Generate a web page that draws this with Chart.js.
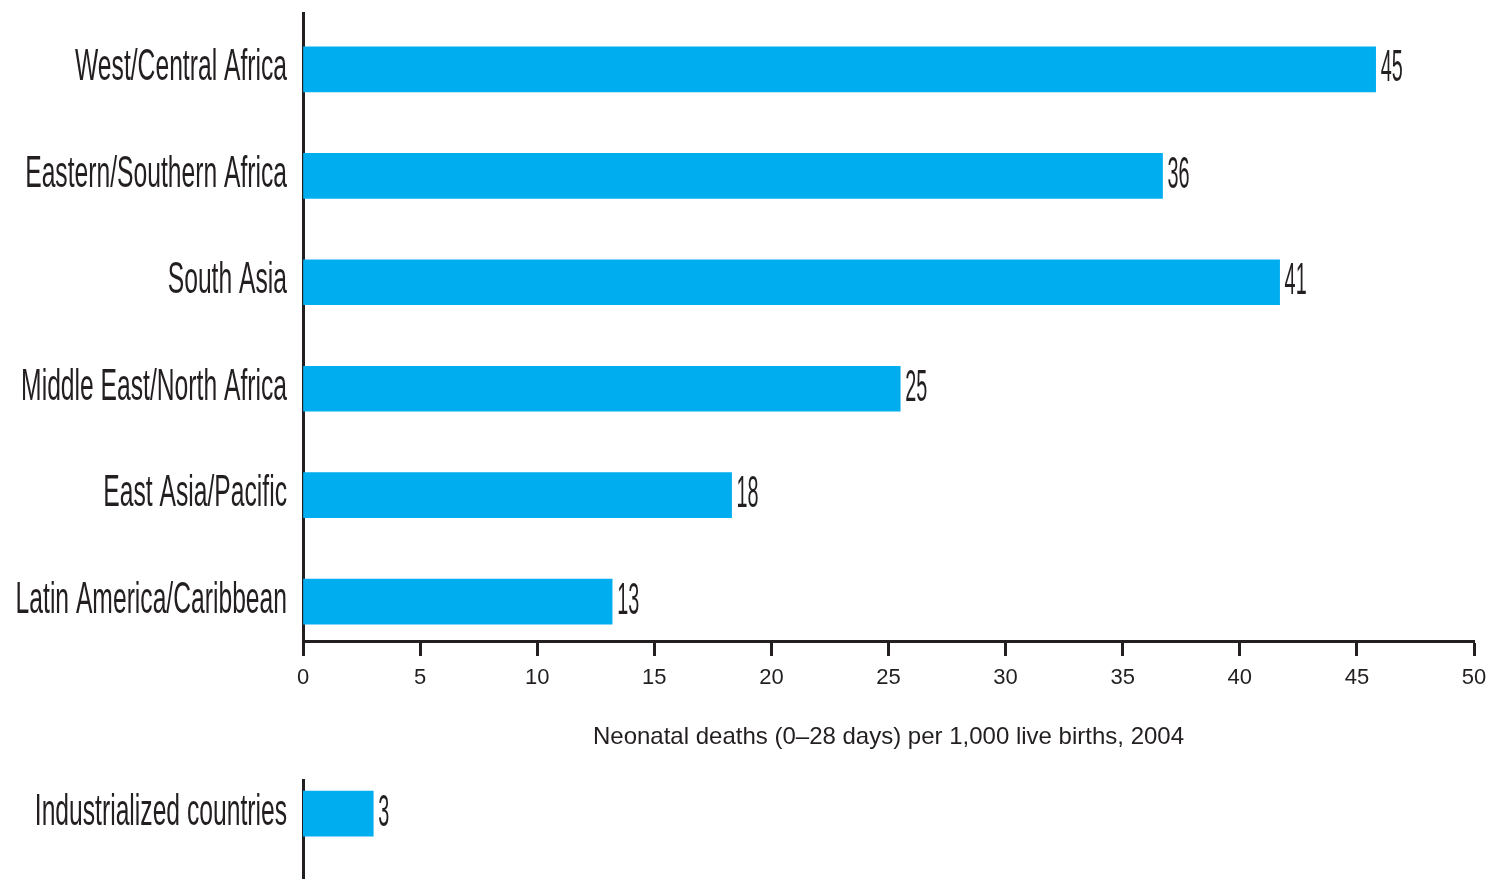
<!DOCTYPE html>
<html>
<head>
<meta charset="utf-8">
<title>Neonatal deaths by region</title>
<script src="https://cdn.jsdelivr.net/npm/chart.js@4.4.1/dist/chart.umd.min.js"></script>
<style>
  html, body { margin: 0; padding: 0; background: #fff; }
  #wrap { position: relative; width: 1490px; height: 879px; overflow: hidden; }
  #main { position: absolute; left: 0; top: 0; }
  #industrial { position: absolute; left: 0; top: 760px; }
</style>
</head>
<body>
<div id="wrap">
  <canvas id="main" width="1490" height="760"></canvas>
  <canvas id="industrial" width="1490" height="119"></canvas>
</div>
<script>
// data
const regions = [
  'West/Central Africa',
  'Eastern/Southern Africa',
  'South Asia',
  'Middle East/North Africa',
  'East Asia/Pacific',
  'Latin America/Caribbean',
];
const regionBars = [45.8, 36.7, 41.7, 25.5, 18.3, 13.2];
const regionValueLabels = ['45', '36', '41', '25', '18', '13'];

const industrialNames = ['Industrialized countries'];
const industrialBars = [3];
const industrialValueLabels = ['3'];

const xMin = 0;
const xMax = 50;
const xStep = 5;
const axisTitle = 'Neonatal deaths (0–28 days) per 1,000 live births, 2004';

const INK = '#231f20';
const BLUE = '#00aeef';
const FONT = '"Liberation Sans", Arial, sans-serif';

Chart.defaults.font.family = FONT;
Chart.defaults.color = INK;

// the labels in the original are set in a very condensed face,
// so squeeze the font horizontally
function narrowText(ctx, text, x, y, align, size, sx) {
  ctx.save();
  ctx.translate(x, y);
  ctx.scale(sx, 1);
  ctx.font = size + 'px ' + FONT;
  ctx.fillStyle = INK;
  ctx.textAlign = align;
  ctx.textBaseline = 'alphabetic';
  ctx.fillText(text, 0, 0);
  ctx.restore();
}

const barLabels = {
  id: 'barLabels',
  afterDraw(chart, args, opts) {
    const ctx = chart.ctx;
    const meta = chart.getDatasetMeta(0);
    meta.data.forEach((bar, i) => {
      narrowText(ctx, opts.names[i], 287, bar.y + 11, 'right', 45, 0.548);
      narrowText(ctx, opts.values[i], bar.x + 5, bar.y + 12, 'left', 45, 0.44);
    });
  },
};

function yAxis(min, max) {
  return {
    type: 'linear',
    reverse: true,
    offset: false,
    min: min,
    max: max,
    z: 1,
    ticks: { display: false },
    grid: { display: false, offset: false },
    border: { display: true, color: INK, width: 3 },
    afterFit(scale) {
      scale.width = 303;
    },
  };
}

function makeChart(id, names, bars, valueLabels, yMin, yMax, showX, padTop) {
  const ctx = document.getElementById(id).getContext('2d');
  return new Chart(ctx, {
    type: 'bar',
    data: {
      datasets: [
        {
          data: bars.map((v, i) => ({ x: v, y: i })),
          backgroundColor: BLUE,
          borderWidth: 0,
          barThickness: 45,
        },
      ],
    },
    options: {
      indexAxis: 'y',
      responsive: false,
      animation: false,
      events: [],
      layout: { padding: { top: padTop, right: 16, left: 0, bottom: 0 } },
      scales: {
        x: {
          type: 'linear',
          display: showX,
          min: xMin,
          max: xMax,
          ticks: {
            stepSize: xStep,
            color: INK,
            padding: 9,
            maxRotation: 0,
            font: { size: 22 },
          },
          grid: {
            drawOnChartArea: false,
            drawTicks: true,
            tickLength: 15,
            tickWidth: 3,
            tickColor: INK,
          },
          border: { display: true, color: INK, width: 3 },
          title: {
            display: true,
            text: axisTitle,
            color: INK,
            font: { size: 24 },
            padding: { top: 0, bottom: 8 },
          },
          afterFit(scale) {
            scale.height = showX ? 119 : 0;
            scale.paddingLeft = 0;
            scale.paddingRight = 0;
          },
        },
        y: yAxis(yMin, yMax),
      },
      plugins: {
        legend: { display: false },
        tooltip: { enabled: false },
        barLabels: { names: names, values: valueLabels },
      },
    },
    plugins: [barLabels],
  });
}

makeChart('main', regions, regionBars, regionValueLabels, -0.53, 5.37, true, 13);
makeChart('industrial', industrialNames, industrialBars, industrialValueLabels, -0.315, 0.614, false, 20);
</script>
</body>
</html>
